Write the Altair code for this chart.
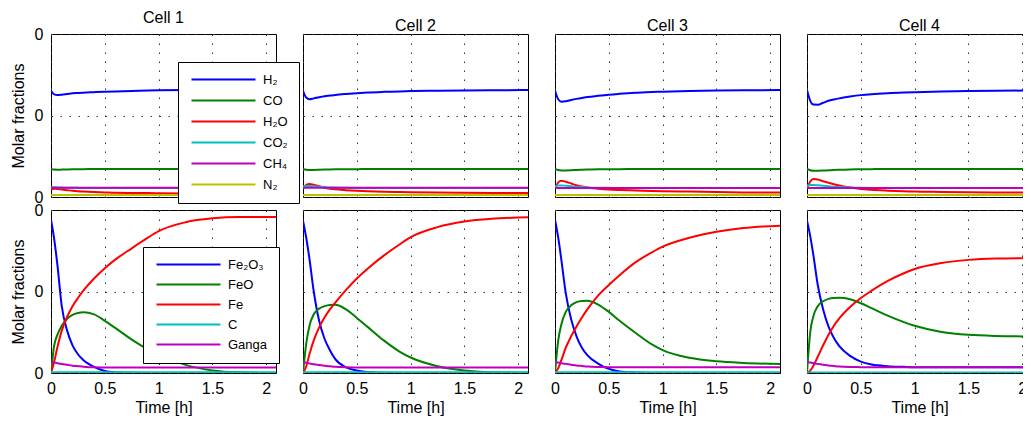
import altair as alt
import pandas as pd

FONT = "Liberation Sans"

T = [0, 0.03, 0.06, 0.1, 0.15, 0.2, 0.25, 0.3, 0.4, 0.5, 0.6, 0.75, 0.9, 1.0, 1.25, 1.5, 1.75, 2.09]
cells = ["Cell 1", "Cell 2", "Cell 3", "Cell 4"]

gas_species = ["H₂", "CO", "H₂O", "CO₂", "CH₄", "N₂"]
gas_colors = ["#0000ff", "#008000", "#ff0000", "#00bfbf", "#bf00bf", "#bfbf00"]
solid_species = ["Fe₂O₃", "FeO", "Fe", "C", "Ganga"]
solid_colors = ["#0000ff", "#008000", "#ff0000", "#00bfbf", "#bf00bf"]

# ---- gas phase (top row) ----
h2 = [
    [0.652, 0.630, 0.626, 0.628, 0.632, 0.636, 0.638, 0.640, 0.643, 0.646, 0.648, 0.651, 0.654, 0.655, 0.657, 0.658, 0.659, 0.660],
    [0.652, 0.610, 0.600, 0.605, 0.612, 0.618, 0.622, 0.626, 0.632, 0.637, 0.641, 0.645, 0.648, 0.650, 0.652, 0.654, 0.655, 0.656],
    [0.652, 0.600, 0.585, 0.587, 0.595, 0.602, 0.608, 0.613, 0.621, 0.628, 0.633, 0.639, 0.644, 0.646, 0.650, 0.653, 0.655, 0.656],
    [0.656, 0.590, 0.567, 0.566, 0.578, 0.590, 0.598, 0.605, 0.616, 0.625, 0.631, 0.637, 0.641, 0.643, 0.647, 0.650, 0.652, 0.653],
]
co = [
    [0.172, 0.168, 0.167, 0.168, 0.169, 0.170, 0.171, 0.171, 0.172, 0.172, 0.172, 0.172, 0.172, 0.172, 0.172, 0.172, 0.172, 0.172],
    [0.172, 0.167, 0.166, 0.166, 0.167, 0.168, 0.169, 0.170, 0.171, 0.171, 0.172, 0.172, 0.172, 0.172, 0.172, 0.172, 0.172, 0.172],
    [0.172, 0.165, 0.163, 0.163, 0.164, 0.166, 0.167, 0.168, 0.170, 0.171, 0.171, 0.172, 0.172, 0.172, 0.172, 0.172, 0.172, 0.172],
    [0.172, 0.164, 0.161, 0.161, 0.162, 0.164, 0.166, 0.167, 0.169, 0.170, 0.171, 0.172, 0.172, 0.172, 0.172, 0.172, 0.172, 0.172],
]
h2o = [
    [0.045, 0.050, 0.049, 0.046, 0.042, 0.038, 0.035, 0.033, 0.030, 0.028, 0.026, 0.025, 0.024, 0.023, 0.022, 0.022, 0.021, 0.021],
    [0.050, 0.075, 0.080, 0.075, 0.066, 0.057, 0.051, 0.047, 0.042, 0.038, 0.035, 0.032, 0.030, 0.029, 0.027, 0.026, 0.025, 0.024],
    [0.050, 0.090, 0.100, 0.094, 0.083, 0.072, 0.064, 0.058, 0.051, 0.046, 0.043, 0.040, 0.037, 0.036, 0.033, 0.030, 0.028, 0.027],
    [0.050, 0.095, 0.110, 0.108, 0.097, 0.087, 0.078, 0.070, 0.058, 0.049, 0.044, 0.039, 0.035, 0.033, 0.031, 0.029, 0.028, 0.027],
]
co2 = [
    [0.060, 0.060, 0.059, 0.058, 0.057, 0.056, 0.056, 0.055, 0.055, 0.055, 0.055, 0.055, 0.055, 0.055, 0.055, 0.055, 0.055, 0.055],
    [0.066, 0.068, 0.068, 0.066, 0.063, 0.061, 0.059, 0.058, 0.056, 0.055, 0.055, 0.055, 0.055, 0.055, 0.055, 0.055, 0.055, 0.055],
    [0.068, 0.071, 0.071, 0.069, 0.066, 0.063, 0.061, 0.059, 0.057, 0.056, 0.055, 0.055, 0.055, 0.055, 0.055, 0.055, 0.055, 0.055],
    [0.070, 0.074, 0.074, 0.072, 0.069, 0.066, 0.063, 0.061, 0.058, 0.056, 0.055, 0.055, 0.055, 0.055, 0.055, 0.055, 0.055, 0.055],
]
ch4_level = [0.057, 0.056, 0.055, 0.055]
n2_level = [0.012, 0.012, 0.012, 0.012]

# ---- solid phase (bottom row) ----
fe2o3 = [
    [0.940, 0.820, 0.660, 0.410, 0.260, 0.170, 0.115, 0.080, 0.037, 0.012, 0.004, 0.001, 0.0, 0.0, 0.0, 0.0, 0.0, 0.0],
    [0.935, 0.830, 0.700, 0.500, 0.320, 0.210, 0.140, 0.085, 0.035, 0.015, 0.006, 0.001, 0.0, 0.0, 0.0, 0.0, 0.0, 0.0],
    [0.940, 0.830, 0.690, 0.490, 0.330, 0.225, 0.155, 0.110, 0.058, 0.025, 0.010, 0.003, 0.0, 0.0, 0.0, 0.0, 0.0, 0.0],
    [0.935, 0.840, 0.720, 0.540, 0.390, 0.285, 0.215, 0.165, 0.105, 0.070, 0.052, 0.042, 0.038, 0.036, 0.035, 0.035, 0.035, 0.035],
]
feo = [
    [0.0, 0.170, 0.235, 0.290, 0.333, 0.357, 0.368, 0.372, 0.360, 0.320, 0.275, 0.205, 0.145, 0.112, 0.050, 0.016, 0.004, 0.0],
    [0.0, 0.180, 0.290, 0.360, 0.395, 0.410, 0.417, 0.418, 0.390, 0.338, 0.283, 0.200, 0.130, 0.095, 0.042, 0.016, 0.005, 0.001],
    [0.0, 0.200, 0.300, 0.375, 0.415, 0.435, 0.442, 0.443, 0.420, 0.375, 0.320, 0.245, 0.175, 0.140, 0.093, 0.072, 0.062, 0.055],
    [0.0, 0.250, 0.350, 0.410, 0.440, 0.455, 0.460, 0.461, 0.452, 0.428, 0.398, 0.352, 0.312, 0.290, 0.252, 0.234, 0.227, 0.224],
]
fe = [
    [0.0, 0.070, 0.160, 0.260, 0.345, 0.410, 0.460, 0.505, 0.580, 0.643, 0.697, 0.765, 0.830, 0.870, 0.925, 0.949, 0.957, 0.957],
    [0.0, 0.040, 0.115, 0.200, 0.280, 0.340, 0.390, 0.432, 0.510, 0.580, 0.640, 0.720, 0.790, 0.833, 0.895, 0.929, 0.946, 0.955],
    [0.0, 0.030, 0.080, 0.155, 0.225, 0.285, 0.340, 0.390, 0.475, 0.540, 0.600, 0.680, 0.740, 0.775, 0.830, 0.866, 0.890, 0.904],
    [0.0, 0.015, 0.045, 0.100, 0.170, 0.235, 0.290, 0.335, 0.405, 0.460, 0.505, 0.565, 0.612, 0.638, 0.675, 0.694, 0.702, 0.705],
]
carbon_level = [0.004, 0.004, 0.004, 0.003]
ganga = [
    [0.068, 0.064, 0.060, 0.055, 0.050, 0.045, 0.042, 0.039, 0.035, 0.034, 0.033, 0.033, 0.033, 0.033, 0.033, 0.033, 0.033, 0.033],
    [0.066, 0.063, 0.059, 0.054, 0.049, 0.044, 0.041, 0.038, 0.035, 0.034, 0.033, 0.033, 0.033, 0.033, 0.033, 0.033, 0.033, 0.033],
    [0.068, 0.064, 0.060, 0.056, 0.051, 0.046, 0.043, 0.040, 0.037, 0.036, 0.035, 0.035, 0.035, 0.035, 0.035, 0.035, 0.035, 0.035],
    [0.068, 0.064, 0.060, 0.056, 0.051, 0.046, 0.043, 0.040, 0.037, 0.036, 0.035, 0.035, 0.035, 0.035, 0.035, 0.035, 0.035, 0.035],
]


def frame(series):
    rows = []
    for name, vals in series:
        for t, v in zip(T, vals):
            rows.append({"t": t, "v": v, "s": name})
    return pd.DataFrame(rows)


PANEL_W, PANEL_H = 225, 163

axis_common = dict(
    grid=True, gridDash=[1.5, 7.5], gridColor="#333333", gridWidth=1, gridOpacity=1,
    ticks=False, domain=False, labelFont=FONT, labelFontSize=16, labelColor="black",
    titleFont=FONT, titleFontSize=16, titleFontWeight="normal", titleColor="black",
)


def panel(df, species, colors, row, col):
    if row == 1:
        xaxis = alt.Axis(values=[0, 0.5, 1, 1.5, 2], format="~g", title="Time [h]", labelFlush=False,
                         labelPadding=7, titlePadding=3, **axis_common)
    else:
        xaxis = alt.Axis(values=[0, 0.5, 1, 1.5, 2], title=None, labels=False, **axis_common)
    if col == 0:
        yaxis = alt.Axis(values=[0, 0.5, 1], labelExpr="'0'", title="Molar fractions",
                         labelPadding=8, titlePadding=8, **axis_common)
    else:
        yaxis = alt.Axis(values=[0, 0.5, 1], title=None, labels=False, **axis_common)

    if col == 0:
        if row == 0:
            lx, ly, pad, rp = 127, 28, 11, 7
        else:
            lx, ly, pad, rp = 92, 37, 11, 6
        legend = alt.Legend(
            orient="none", legendX=lx, legendY=ly, title=None,
            fillColor="white", strokeColor="black", padding=pad,
            symbolType="M-1,0H15", symbolSize=64, symbolStrokeWidth=2,
            labelOffset=61, labelFont=FONT, labelFontSize=13, labelColor="black",
            rowPadding=rp, symbolOpacity=1,
        )
    else:
        legend = None

    ch = alt.Chart(df).mark_line(strokeWidth=2, interpolate="monotone", clip=True).encode(
        x=alt.X("t:Q", scale=alt.Scale(domain=[0, 2.09], nice=False, zero=False), axis=xaxis),
        y=alt.Y("v:Q", scale=alt.Scale(domain=[0, 1], nice=False), axis=yaxis),
        color=alt.Color("s:N", scale=alt.Scale(domain=species, range=colors), legend=legend, sort=species),
    )
    props = dict(width=PANEL_W, height=PANEL_H)
    if row == 0:
        props["title"] = alt.TitleParams(cells[col], font=FONT, fontSize=16, fontWeight="normal",
                                         color="black", offset=0)
    return ch.properties(**props)


top = []
bottom = []
for i in range(4):
    gdf = frame([
        ("H₂", h2[i]), ("CO", co[i]), ("H₂O", h2o[i]), ("CO₂", co2[i]),
        ("CH₄", [ch4_level[i]] * len(T)), ("N₂", [n2_level[i]] * len(T)),
    ])
    sdf = frame([
        ("Fe₂O₃", fe2o3[i]), ("FeO", feo[i]), ("Fe", fe[i]),
        ("C", [carbon_level[i]] * len(T)), ("Ganga", ganga[i]),
    ])
    top.append(panel(gdf, gas_species, gas_colors, 0, i))
    bottom.append(panel(sdf, solid_species, solid_colors, 1, i))

chart = (
    alt.concat(*(top + bottom), columns=4, spacing={"row": 13, "column": 27}, bounds="flush")
    .resolve_scale(color="independent")
    .properties(
        autosize=alt.AutoSizeParams(type="none"),
        padding={"left": 43, "top": 26, "right": 972, "bottom": 383},
        background="white",
    )
    .configure_view(stroke="black", strokeWidth=1)
)

chart.save("out.html", embed_options={"renderer": "svg", "actions": False})
